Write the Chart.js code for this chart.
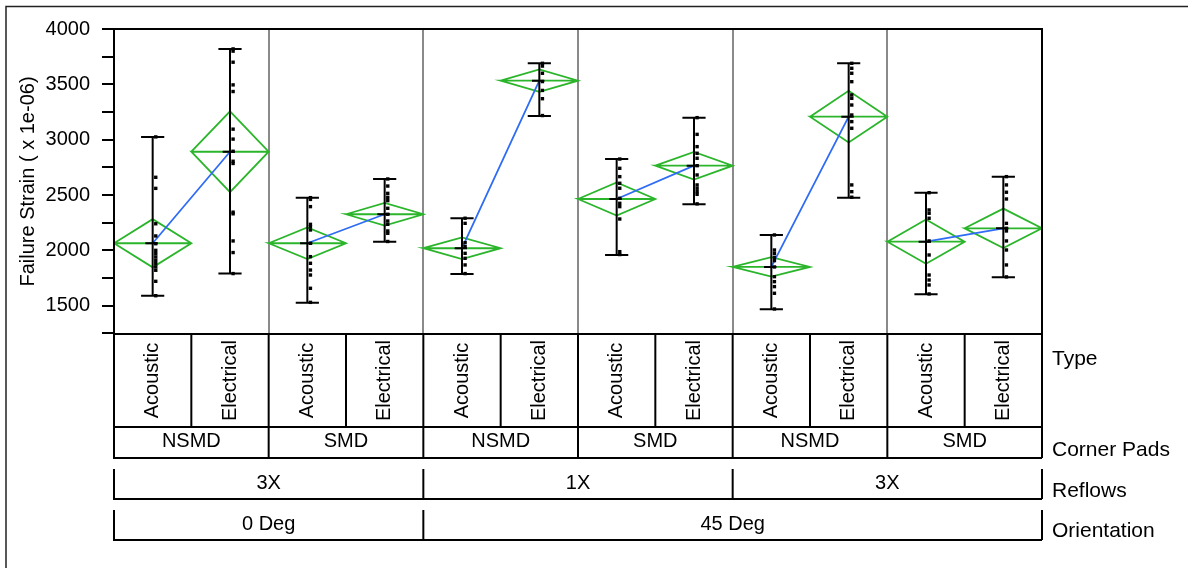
<!DOCTYPE html>
<html>
<head>
<meta charset="utf-8">
<title>Failure Strain variability chart</title>
<script src="https://cdn.jsdelivr.net/npm/chart.js@4.4.1/dist/chart.umd.min.js"></script>
<style>
  html, body { margin: 0; padding: 0; background: #fff; }
  #wrap { width: 1188px; height: 568px; }
</style>
</head>
<body>
<div id="wrap"><canvas id="chart" width="1188" height="568"></canvas></div>
<script>
// categorias (nível mais interno -> mais externo)
const typeLabels = ['Acoustic', 'Electrical', 'Acoustic', 'Electrical', 'Acoustic', 'Electrical',
                    'Acoustic', 'Electrical', 'Acoustic', 'Electrical', 'Acoustic', 'Electrical'];
const padLabels = ['NSMD', 'SMD', 'NSMD', 'SMD', 'NSMD', 'SMD'];
const padSpans = [2, 2, 2, 2, 2, 2];
const reflowLabels = ['3X', '1X', '3X'];
const reflowSpans = [4, 4, 4];
const orientLabels = ['0 Deg', '45 Deg'];
const orientSpans = [4, 8];

// valores (x 1e-06)
const strainPoints = [
  [3025, 2660, 2560, 2240, 2130, 2060, 2000, 1970, 1940, 1910, 1880, 1850, 1820, 1720, 1590],
  [3820, 3800, 3700, 3495, 3435, 3095, 3005, 2895, 2805, 2785, 2345, 2330, 2085, 1980, 1790],
  [2476, 2460, 2395, 2235, 2214, 2184, 2064, 1943, 1883, 1822, 1777, 1657, 1530],
  [2645, 2581, 2515, 2479, 2449, 2380, 2326, 2265, 2235, 2175, 2154, 2080],
  [2290, 2244, 2069, 2033, 1973, 1928, 1868, 1790],
  [3690, 3665, 3600, 3525, 3445, 3370, 3218],
  [2825, 2741, 2666, 2606, 2561, 2470, 2425, 2395, 2283, 1988, 1962],
  [3199, 3048, 2937, 2877, 2832, 2765, 2681, 2591, 2561, 2530, 2506, 2420],
  [2139, 2003, 1973, 1937, 1907, 1850, 1762, 1717, 1672, 1612, 1470],
  [3690, 3645, 3600, 3524, 3404, 3374, 3313, 3223, 3163, 3103, 2591, 2530, 2480],
  [2521, 2365, 2335, 2290, 2085, 1958, 1777, 1732, 1687, 1606],
  [2666, 2591, 2525, 2464, 2244, 2199, 2175, 2085, 2003, 1868, 1760]
];
const strainMean = [2064, 2891, 2064, 2326, 2019, 3533, 2464, 2765, 1850, 3208, 2078, 2199];
const strainLow = [1590, 1790, 1527, 2078, 1786, 3214, 1958, 2416, 1467, 2476, 1603, 1757];
const strainHigh = [3025, 3820, 2476, 2645, 2290, 3690, 2825, 3199, 2139, 3690, 2521, 2666];
const diamondHalf = [218, 365, 143, 103, 98, 101, 150, 125, 88, 233, 200, 178];
const yTicks = [1250, 1500, 1750, 2000, 2250, 2500, 2750, 3000, 3250, 3500, 3750, 4000];

const FONT = "'Liberation Sans', Arial, sans-serif";

// montagem dos datasets
const pointData = [];
const whiskerData = [];
const diamondData = [];
const meanLineData = [];
const gap = (x) => ({ x: x, y: null });

strainPoints.forEach(function (vals, i) {
  const c = i + 0.5;
  vals.forEach(v => pointData.push({ x: c + 0.04, y: v }));

  whiskerData.push({ x: c, y: strainLow[i] }, { x: c, y: strainHigh[i] }, gap(c));
  whiskerData.push({ x: c - 0.15, y: strainHigh[i] }, { x: c + 0.15, y: strainHigh[i] }, gap(c));
  whiskerData.push({ x: c - 0.15, y: strainLow[i] }, { x: c + 0.15, y: strainLow[i] }, gap(c));
  whiskerData.push({ x: c - 0.095, y: strainMean[i] }, { x: c + 0.065, y: strainMean[i] }, gap(c));

  const m = strainMean[i], h = diamondHalf[i];
  diamondData.push({ x: i, y: m }, { x: c, y: m + h }, { x: i + 1, y: m }, { x: c, y: m - h },
                   { x: i, y: m }, { x: i + 1, y: m }, gap(c));
});

for (let p = 0; p < strainMean.length; p += 2) {
  meanLineData.push({ x: p + 0.5, y: strainMean[p] }, { x: p + 1.5, y: strainMean[p + 1] }, gap(p + 1));
}

// moldura externa, contorno do gráfico e tabela de fatores
const tablePlugin = {
  id: 'tabelaFatores',
  beforeDraw(chart) {
    const ctx = chart.ctx;
    ctx.save();
    ctx.strokeStyle = '#222';
    ctx.lineWidth = 1.5;
    ctx.beginPath();
    ctx.moveTo(6, 568);
    ctx.lineTo(6, 6.5);
    ctx.lineTo(1188, 6.5);
    ctx.stroke();
    ctx.restore();
  },
  afterDraw(chart) {
    const { ctx, chartArea, scales } = chart;
    const x = scales.x;
    ctx.save();
    ctx.strokeStyle = '#000';
    ctx.lineWidth = 2;
    ctx.strokeRect(chartArea.left, chartArea.top, chartArea.right - chartArea.left, chartArea.bottom - chartArea.top);

    const rows = [
      { labels: typeLabels, spans: typeLabels.map(() => 1), top: chartArea.bottom, bottom: 427, vertical: true, name: 'Type', nameY: 359 },
      { labels: padLabels, spans: padSpans, top: 427, bottom: 458, name: 'Corner Pads', nameY: 450 },
      { labels: reflowLabels, spans: reflowSpans, top: 469, bottom: 499, name: 'Reflows', nameY: 491 },
      { labels: orientLabels, spans: orientSpans, top: 510, bottom: 540, name: 'Orientation', nameY: 531 }
    ];

    ctx.fillStyle = '#000';
    rows.forEach(function (row) {
      const x0 = x.getPixelForValue(0);
      const x1 = x.getPixelForValue(12);
      ctx.beginPath();
      ctx.moveTo(x0, row.top);
      ctx.lineTo(x0, row.bottom);
      ctx.lineTo(x1, row.bottom);
      ctx.stroke();

      ctx.font = '20px ' + FONT;
      let pos = 0;
      row.labels.forEach(function (lab, k) {
        const a = x.getPixelForValue(pos);
        pos += row.spans[k];
        const b = x.getPixelForValue(pos);
        ctx.beginPath();
        ctx.moveTo(b, row.top);
        ctx.lineTo(b, row.bottom);
        ctx.stroke();

        const cx = (a + b) / 2;
        ctx.textAlign = 'center';
        ctx.textBaseline = 'middle';
        if (row.vertical) {
          ctx.save();
          ctx.translate(cx, (row.top + row.bottom) / 2);
          ctx.rotate(-Math.PI / 2);
          ctx.fillText(lab, 0, 0);
          ctx.restore();
        } else {
          ctx.fillText(lab, cx, (row.top + row.bottom) / 2 - 1);
        }
      });

      ctx.font = '21px ' + FONT;
      ctx.textAlign = 'left';
      ctx.textBaseline = 'middle';
      ctx.fillText(row.name, 1052, row.nameY);
    });
    ctx.restore();
  }
};

const ctx = document.getElementById('chart').getContext('2d');
new Chart(ctx, {
  type: 'scatter',
  data: {
    datasets: [
      {
        label: 'Pontos',
        data: pointData,
        order: 0,
        pointStyle: 'rect',
        pointRadius: 2.4,
        pointBorderWidth: 0,
        backgroundColor: '#000',
        borderColor: '#000'
      },
      {
        label: 'Faixa',
        data: whiskerData,
        order: 1,
        showLine: true,
        spanGaps: false,
        pointRadius: 0,
        borderColor: '#000',
        borderWidth: 2
      },
      {
        label: 'Médias',
        data: meanLineData,
        order: 2,
        showLine: true,
        spanGaps: false,
        pointRadius: 0,
        borderColor: '#2f6cf5',
        borderWidth: 1.8
      },
      {
        label: 'Diamantes',
        data: diamondData,
        order: 3,
        showLine: true,
        spanGaps: false,
        pointRadius: 0,
        borderColor: '#2bb52b',
        borderWidth: 1.8
      }
    ]
  },
  options: {
    responsive: false,
    animation: false,
    events: [],
    layout: { padding: { left: 6, top: 29, right: 146, bottom: 234 } },
    plugins: { legend: { display: false }, tooltip: { enabled: false } },
    scales: {
      x: {
        type: 'linear',
        min: 0,
        max: 12,
        afterBuildTicks: function (scale) {
          scale.ticks = [0, 2, 4, 6, 8, 10, 12].map(v => ({ value: v }));
        },
        afterFit: function (scale) { scale.height = 0; },
        ticks: { display: false },
        grid: {
          drawTicks: false,
          lineWidth: 2,
          color: function (c) {
            const v = c.tick ? c.tick.value : 0;
            return (v === 0 || v === 12) ? 'rgba(0,0,0,0)' : '#8a8a8a';
          }
        },
        border: { display: true, color: '#000', width: 2 }
      },
      y: {
        type: 'linear',
        min: 1244,
        max: 4000,
        afterBuildTicks: function (scale) {
          scale.ticks = yTicks.map(v => ({ value: v }));
        },
        afterFit: function (scale) { scale.width = 108; },
        ticks: {
          padding: 12,
          color: '#000',
          font: { family: FONT, size: 20 },
          callback: function (v) { return (v % 500 === 0 && v >= 1500) ? String(v) : ''; }
        },
        grid: {
          drawOnChartArea: false,
          drawTicks: true,
          tickLength: 12,
          lineWidth: 2,
          color: '#000'
        },
        border: { display: true, color: '#000', width: 2 },
        title: {
          display: true,
          text: 'Failure Strain ( x 1e-06)',
          color: '#000',
          font: { family: FONT, size: 20 },
          padding: { top: 10, bottom: 0 }
        }
      }
    }
  },
  plugins: [tablePlugin]
});
</script>
</body>
</html>
